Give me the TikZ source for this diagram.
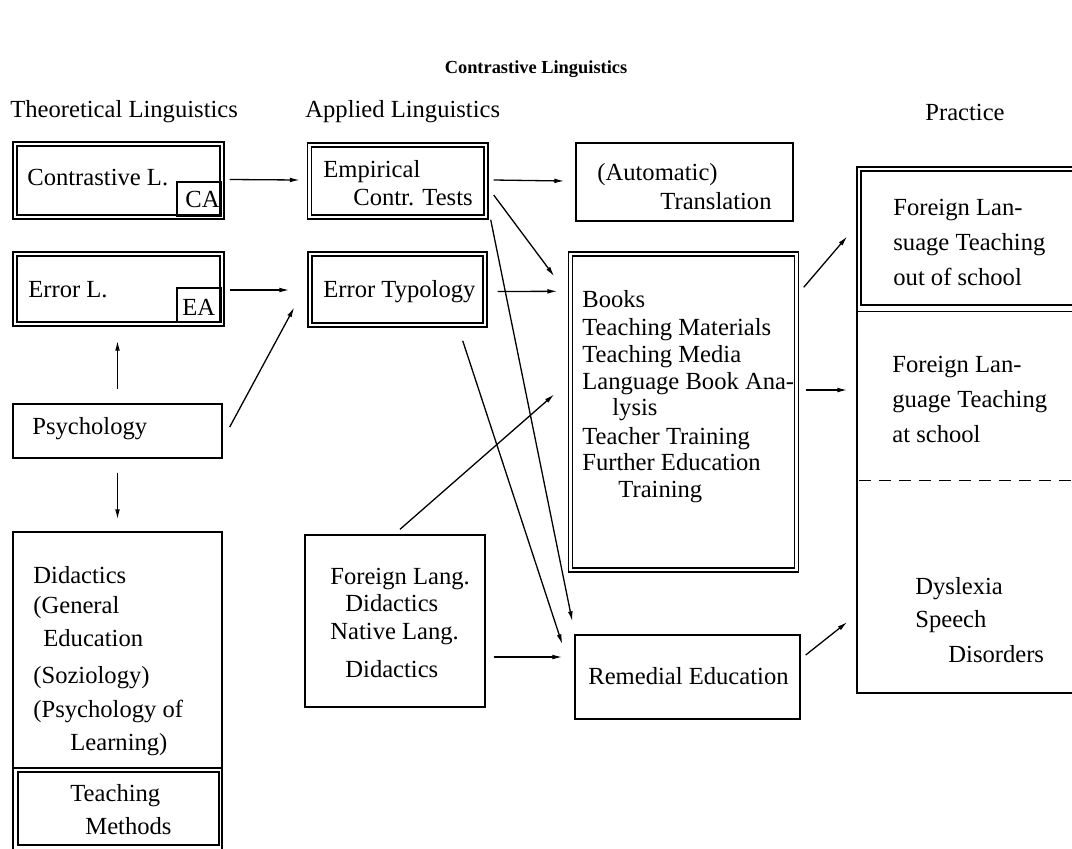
\documentclass[tikz,border=0pt]{standalone}
\usepackage{fontspec}
\setmainfont{Liberation Serif}
\usetikzlibrary{fit,calc,arrows.meta}
\newcommand\bodyfont{\fontsize{12.3}{14}\selectfont}
\newcommand\titlefont{\fontsize{9.2}{11}\selectfont\bfseries}
\begin{document}
\begin{tikzpicture}[x=0.5pt,y=-0.5pt,
  box/.style={draw,line width=0.7pt,inner sep=0pt},
  dbl/.style={box,double,double distance=1.4pt},
  txt/.style={font=\bodyfont,anchor=base west,inner sep=0pt},
  arr/.style={line width=0.65pt,-{Latex[length=5pt,width=2.4pt]}},
  ln/.style={line width=0.7pt}]
\clip (0,0) rectangle (1072,848);

% title and headings
\node[font=\titlefont,anchor=base,inner sep=0pt] (title) at (536,73) {Contrastive Linguistics};
\node[txt] (h1) at (10,117) {Theoretical Linguistics};
\node[txt] (h2) at (305,117) {Applied Linguistics};
\node[txt] (h3) at (925,120) {Practice};

% boxes
\node[dbl,fit={(15,144) (222,217)}] (cl) {};
\node[box,fit={(177,182) (221,216)}] (ca) {};
\node[dbl,fit={(15,254) (222,324)}] (el) {};
\node[box,fit={(177,288) (221,322)}] (ea) {};
\node[box,fit={(13,404) (222,458)}] (psych) {};
\node[box,fit={(13,532) (222,768)}] (did) {};
\node[box,fit={(13,768) (222,851)}] (tmo) {};
\node[box,fit={(18,772) (219,845)}] (tmi) {};
\node[dbl,fit={(309.5,145) (486,217)}] (emp) {};
\node[dbl,fit={(310,254) (485,325)}] (errt) {};
\node[box,fit={(305,535) (485,707)}] (fld) {};
\node[box,fit={(576,143) (793,221)}] (trans) {};
\node[dbl,fit={(570.5,254) (796.5,570)}] (books) {};
\node[box,fit={(575,635) (800,719)}] (rem) {};
\node[box,fit={(857,167) (1090,693)}] (prac) {};
\node[box,fit={(861,171) (1090,305)}] (pin) {};
\draw[ln] ($(prac.north west)+(0,145)$) -- ++(240,0);
\draw[ln,dash pattern=on 6pt off 4pt] ($(prac.north west)+(3,314)$) -- ++(240,0);

% texts
\node[txt] (tcl) at (27,185) {Contrastive L.};
\node[txt] (tca) at (185,207) {CA};
\node[txt] (tel) at (28,297) {Error L.};
\node[txt] (tea) at (182,315) {EA};
\node[txt] (tps) at (32,434) {Psychology};
\node[txt] (td1) at (33,583) {Didactics};
\node[txt] (td2) at (33,613) {(General};
\node[txt] (td3) at (43,646) {Education};
\node[txt] (td4) at (33,683) {(Soziology)};
\node[txt] (td5) at (33,717) {(Psychology of};
\node[txt] (td6) at (70,750) {Learning)};
\node[txt] (ttm1) at (70,801) {Teaching};
\node[txt] (ttm2) at (85,834) {Methods};
\node[txt] (te1) at (323,177) {Empirical};
\node[txt] (te2) at (353,205) {Contr. Tests};
\node[txt] (tet) at (323,297) {Error Typology};
\node[txt] (tf1) at (330,584) {Foreign Lang.};
\node[txt] (tf2) at (345,611) {Didactics};
\node[txt] (tf3) at (330,639) {Native Lang.};
\node[txt] (tf4) at (345,677) {Didactics};
\node[txt] (tt1) at (597,180) {(Automatic)};
\node[txt] (tt2) at (660,209) {Translation};
\node[txt] (tb1) at (582,307) {Books};
\node[txt] (tb2) at (582,335) {Teaching Materials};
\node[txt] (tb3) at (582,362) {Teaching Media};
\node[txt] (tb4) at (582,389) {Language Book Ana-};
\node[txt] (tb5) at (612,415) {lysis};
\node[txt] (tb6) at (582,444) {Teacher Training};
\node[txt] (tb7) at (582,470) {Further Education};
\node[txt] (tb8) at (618,497) {Training};
\node[txt] (tr) at (588,684) {Remedial Education};
\node[txt] (tp1) at (893,215) {Foreign Lan-};
\node[txt] (tp2) at (893,250) {suage Teaching};
\node[txt] (tp3) at (893,285) {out of school};
\node[txt] (tp4) at (892,372) {Foreign Lan-};
\node[txt] (tp5) at (892,407) {guage Teaching};
\node[txt] (tp6) at (892,442) {at school};
\node[txt] (tp7) at (915,594) {Dyslexia};
\node[txt] (tp8) at (915,627) {Speech};
\node[txt] (tp9) at (948,662) {Disorders};

% connectors
\draw[arr] ($(cl.east)+(7,-1)$) -- ($(emp.west)+(-9,-1)$);
\draw[arr] ($(emp.east)+(7,-1)$) -- ($(trans.west)+(-11,-1)$);
\draw[arr] ($(emp.east)+(7,14)$) -- ($(books.north west)+(-15.5,23)$);
\draw[arr] ($(emp.south east)+(4,2)$) -- ($(rem.north west)+(-2,-13)$);
\draw[arr] ($(el.east)+(7,1)$) -- ($(errt.west)+(-20,0.5)$);
\draw[arr] ($(errt.east)+(12,2)$) -- ($(books.north west)+(-12.5,38)$);
\draw[arr] ($(errt.south east)+(-23,15)$) -- ($(rem.north west)+(-12,10)$);
\draw[arr] ($(psych.north)+(0,-14)$) -- ($(el.south)+(-1,16)$);
\draw[arr] ($(psych.south)+(0,14)$) -- ($(did.north)+(0,-12)$);
\draw[arr] ($(psych.east)+(7,-4)$) -- ($(errt.north west)+(-15,54)$);
\draw[arr] ($(fld.north)+(5,-5)$) -- ($(books.north west)+(-15.5,141)$);
\draw[arr] ($(fld.east)+(8,36)$) -- ($(rem.west)+(-12,-20)$);
\draw[arr] ($(books.north east)+(6.5,34)$) -- ($(prac.north west)+(-9,70)$);
\draw[arr] ($(books.east)+(8.5,-22)$) -- ($(prac.west)+(-9,-40)$);
\draw[arr] ($(rem.east)+(5,-22)$) -- ($(prac.west)+(-9,192)$);
\end{tikzpicture}
\end{document}
